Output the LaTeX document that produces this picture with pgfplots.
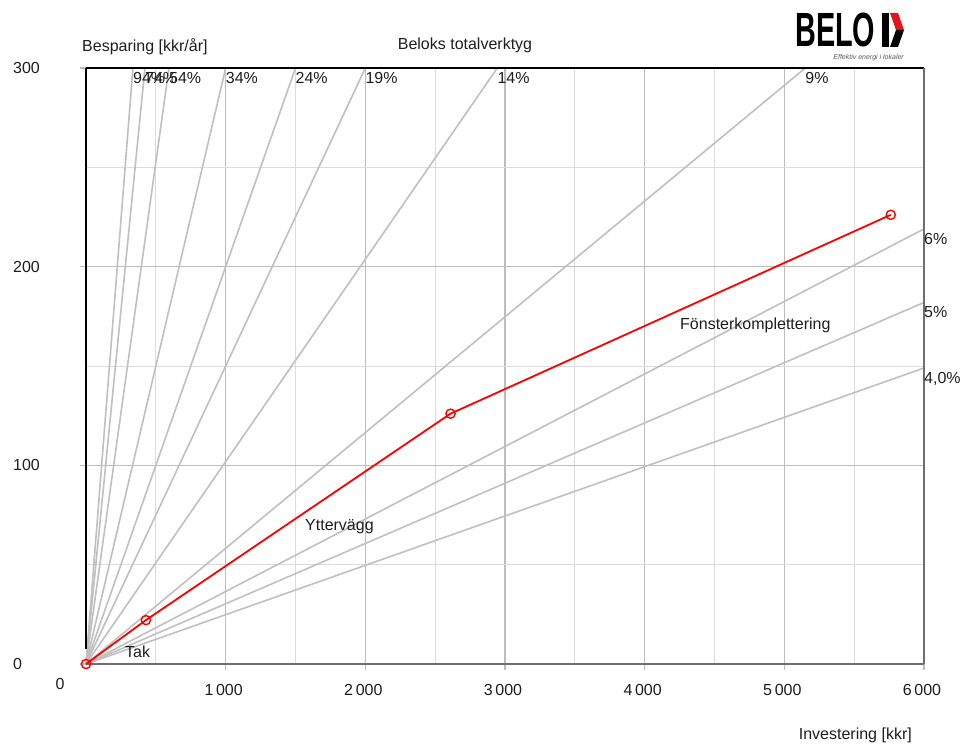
\documentclass[border=0pt]{standalone}
\usepackage{pgfplots}
\pgfplotsset{compat=1.18}
\usepackage{fontspec}
\setmainfont{Liberation Sans}
\definecolor{ratio}{HTML}{C0C0C0}
\definecolor{gridmaj}{HTML}{BDBDBD}
\definecolor{gridmin}{HTML}{DCDCDC}
\definecolor{frame}{HTML}{6E6E6E}
\definecolor{txt}{HTML}{1E1E1E}
\definecolor{belokred}{HTML}{E3141B}
\begin{document}
\begin{tikzpicture}[x=1bp,y=1bp]
\path[use as bounding box, fill=white] (0,0) rectangle (972,-745);
\begin{axis}[
  at={(86bp,-664bp)}, anchor=south west,
  scale only axis, width=838bp, height=596bp,
  xmin=0, xmax=6000, ymin=0, ymax=300,
  clip=false,
  axis line style={draw=none},
  font=\fontsize{16bp}{19bp}\selectfont,
  every tick label/.append style={text=txt},
  xtick={1000,2000,3000,4000,5000,6000},
  xticklabels={1\,000,2\,000,3\,000,4\,000,5\,000,6\,000},
  extra x ticks={0}, extra x tick labels={0},
  extra x tick style={grid=none, major tick length=0pt,
    xticklabel style={xshift=-24bp}},
  minor xtick={500,1500,2500,3500,4500,5500},
  ytick={0,100,200,300},
  yticklabels={0,100,200,300},
  minor ytick={50,150,250},
  grid=both,
  major grid style={draw=gridmaj, line width=1.2bp},
  minor grid style={draw=gridmin, line width=1bp},
  tick pos=left, tick align=outside,
  major tick length=6bp, minor tick length=0pt,
  tick style={draw=gridmaj, line width=1.2bp},
  xticklabel style={inner sep=0pt, yshift=-14bp, xshift=-2bp},
  yticklabel style={anchor=west, inner sep=0pt, xshift=-67bp},
]
% lines of constant profitability from the origin
\addplot[ratio, line width=1.6bp] coordinates {(0,0) (336,300)};
\addplot[ratio, line width=1.6bp] coordinates {(0,0) (422,300)};
\addplot[ratio, line width=1.6bp] coordinates {(0,0) (594,300)};
\addplot[ratio, line width=1.6bp] coordinates {(0,0) (1000,300)};
\addplot[ratio, line width=1.6bp] coordinates {(0,0) (1500,300)};
\addplot[ratio, line width=1.6bp] coordinates {(0,0) (2000,300)};
\addplot[ratio, line width=1.6bp] coordinates {(0,0) (2945,300)};
\addplot[ratio, line width=1.6bp] coordinates {(0,0) (5150,300)};
\addplot[ratio, line width=1.6bp] coordinates {(0,0) (6000,219)};
\addplot[ratio, line width=1.6bp] coordinates {(0,0) (6000,182)};
\addplot[ratio, line width=1.6bp] coordinates {(0,0) (6000,149)};
% frame
\draw[black, line width=1.3bp] (axis cs:0,300) -- (axis cs:6000,300);
\draw[black, line width=1.3bp] (axis cs:0,300) -- (axis cs:0,7.5);
\draw[frame, line width=1.3bp] (axis cs:6000,0) -- (axis cs:6000,300);
\draw[frame, line width=1.8bp] (axis cs:0,0) -- (axis cs:6000,0);
% ratio labels
\begin{scope}[every node/.style={text=txt, inner sep=0pt, anchor=north west, yshift=-4bp}]
\node at (axis cs:336,300) {94\%};
\node at (axis cs:422,300) {74\%};
\node at (axis cs:594,300) {54\%};
\node at (axis cs:1000,300) {34\%};
\node at (axis cs:1500,300) {24\%};
\node at (axis cs:2000,300) {19\%};
\node at (axis cs:2945,300) {14\%};
\node at (axis cs:5150,300) {9\%};
\node at (axis cs:6000,219) {6\%};
\node at (axis cs:6000,182) {5\%};
\node at (axis cs:6000,149) {4,0\%};
\end{scope}
% accumulated measures
\addplot[red, line width=1.8bp, mark=o, mark size=4.6bp,
  mark options={fill=white, line width=1.4bp}]
  coordinates {(0,0) (429,22.1) (2610,126) (5762,226.1)};
\begin{scope}[every node/.style={text=txt, inner sep=0pt, anchor=west}]
\node at (axis cs:279,6) {Tak};
\node at (axis cs:1568,69) {Yttervägg};
\node at (axis cs:4253,170.6) {Fönsterkomplettering};
\end{scope}
\end{axis}
\begin{scope}[font=\fontsize{16bp}{19bp}\selectfont, every node/.style={text=txt, inner sep=0pt}]
\node[anchor=west] at (82,-47) {Besparing [kkr/år]};
\node at (465,-45) {Beloks totalverktyg};
\node[anchor=east] at (912,-735) {Investering [kkr]};
\end{scope}
% logo
\node[anchor=south west, inner sep=0pt] at (795,-47)
  {\fontsize{48bp}{48bp}\selectfont\bfseries\scalebox{0.6}[1]{BELO}};
\fill[black] (882,-13) rectangle (889,-47);
\fill[belokred] (890,-13) -- (898,-13) -- (904,-30) -- (896,-30) -- cycle;
\fill[black] (896,-30) -- (904,-30) -- (898,-47) -- (890,-47) -- cycle;
\node[anchor=base east, inner sep=0pt, text=black!65] at (904,-60)
  {\fontsize{7bp}{8bp}\selectfont\itshape Effektiv energi i lokaler};
\end{tikzpicture}
\end{document}
